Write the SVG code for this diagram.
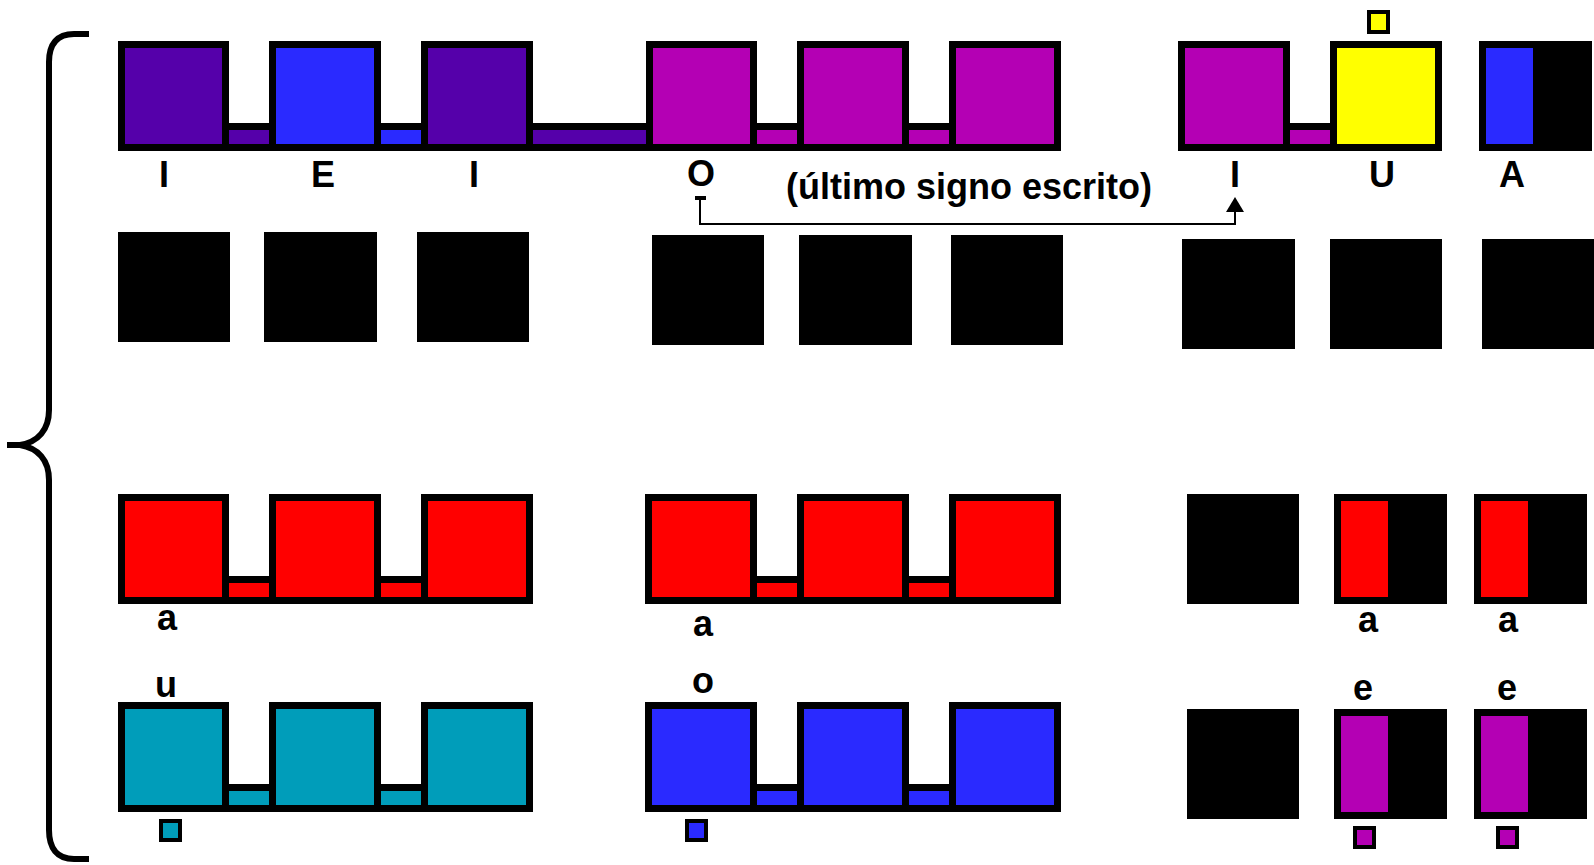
<svg xmlns="http://www.w3.org/2000/svg" width="1594" height="865" viewBox="0 0 1594 865">
<style>
.k{fill:#000}
.dp{fill:#5500AA}
.bl{fill:#2A2AFF}
.mg{fill:#B400B4}
.ye{fill:#FFFF00}
.rd{fill:#FF0000}
.tl{fill:#009DBA}
.t{font-family:"Liberation Sans",Arial,sans-serif;font-size:36px;font-weight:bold;fill:#000;text-anchor:middle}
.note{font-family:"Liberation Sans",Arial,sans-serif;font-size:36px;font-weight:bold;fill:#000}
.brace{fill:none;stroke:#000;stroke-width:6}
.ln{fill:none;stroke:#000;stroke-width:2}
</style>
<rect width="1594" height="865" fill="#fff"/>

<path class="brace" d="M89,34 H74 C57,34 49,44 49,62 V410 C49,430 38,442 20,445 H7 M20,445 C38,448 49,460 49,480 V830 C49,848 57,859 74,859 H89"/>

<!-- Top row, group 1 -->
<g id="top-g1">
<rect class="k" x="118" y="41" width="111" height="110"/><rect class="dp" x="125" y="48" width="97" height="96"/>
<rect class="k" x="229" y="123" width="40" height="28"/><rect class="dp" x="229" y="130" width="40" height="14"/>
<rect class="k" x="269" y="41" width="112" height="110"/><rect class="bl" x="276" y="48" width="98" height="96"/>
<rect class="k" x="381" y="123" width="40" height="28"/><rect class="bl" x="381" y="130" width="40" height="14"/>
<rect class="k" x="421" y="41" width="112" height="110"/><rect class="dp" x="428" y="48" width="98" height="96"/>
<rect class="k" x="533" y="123" width="113" height="28"/><rect class="dp" x="533" y="130" width="113" height="14"/>
<text class="t" x="164" y="187">I</text>
<text class="t" x="323" y="187">E</text>
<text class="t" x="474" y="187">I</text>
</g>

<!-- Top row, group 2 -->
<g id="top-g2">
<rect class="k" x="646" y="41" width="111" height="110"/><rect class="mg" x="653" y="48" width="97" height="96"/>
<rect class="k" x="757" y="123" width="40" height="28"/><rect class="mg" x="757" y="130" width="40" height="14"/>
<rect class="k" x="797" y="41" width="112" height="110"/><rect class="mg" x="804" y="48" width="98" height="96"/>
<rect class="k" x="909" y="123" width="40" height="28"/><rect class="mg" x="909" y="130" width="40" height="14"/>
<rect class="k" x="949" y="41" width="112" height="110"/><rect class="mg" x="956" y="48" width="98" height="96"/>
<text class="t" x="701" y="186">O</text>
</g>

<!-- Top row, group 3 -->
<g id="top-g3">
<rect class="k" x="1178" y="41" width="112" height="110"/><rect class="mg" x="1185" y="48" width="98" height="96"/>
<rect class="k" x="1290" y="123" width="40" height="28"/><rect class="mg" x="1290" y="130" width="40" height="14"/>
<rect class="k" x="1330" y="41" width="112" height="110"/><rect class="ye" x="1337" y="48" width="98" height="96"/>
<rect class="k" x="1367" y="10" width="23" height="24"/><rect class="ye" x="1371" y="14" width="15" height="16"/>
<text class="t" x="1235" y="187">I</text>
<text class="t" x="1382" y="187">U</text>
</g>
<g id="top-a">
<rect class="k" x="1479" y="41" width="113" height="110"/><rect class="bl" x="1486" y="48" width="47" height="96"/>
<text class="t" x="1512" y="187">A</text>
</g>

<text id="note" class="note" x="786" y="199">(último signo escrito)</text>

<!-- Row 2: black squares -->
<g id="row2-g1">
<rect class="k" x="118" y="232" width="112" height="110"/>
<rect class="k" x="264" y="232" width="113" height="110"/>
<rect class="k" x="417" y="232" width="112" height="110"/>
</g>
<g id="row2-g2">
<rect class="k" x="652" y="235" width="112" height="110"/>
<rect class="k" x="799" y="235" width="113" height="110"/>
<rect class="k" x="951" y="235" width="112" height="110"/>
</g>
<g id="row2-g3">
<rect class="k" x="1182" y="239" width="113" height="110"/>
<rect class="k" x="1330" y="239" width="112" height="110"/>
<rect class="k" x="1482" y="239" width="112" height="110"/>
</g>

<!-- Row 3 -->
<g id="row3-g1">
<rect class="k" x="118" y="494" width="111" height="110"/><rect class="rd" x="125" y="501" width="97" height="96"/>
<rect class="k" x="229" y="576" width="40" height="28"/><rect class="rd" x="229" y="583" width="40" height="14"/>
<rect class="k" x="269" y="494" width="112" height="110"/><rect class="rd" x="276" y="501" width="98" height="96"/>
<rect class="k" x="381" y="576" width="40" height="28"/><rect class="rd" x="381" y="583" width="40" height="14"/>
<rect class="k" x="421" y="494" width="112" height="110"/><rect class="rd" x="428" y="501" width="98" height="96"/>
<text class="t" x="167" y="630">a</text>
</g>
<g id="row3-g2">
<rect class="k" x="645" y="494" width="112" height="110"/><rect class="rd" x="652" y="501" width="98" height="96"/>
<rect class="k" x="757" y="576" width="40" height="28"/><rect class="rd" x="757" y="583" width="40" height="14"/>
<rect class="k" x="797" y="494" width="112" height="110"/><rect class="rd" x="804" y="501" width="98" height="96"/>
<rect class="k" x="909" y="576" width="40" height="28"/><rect class="rd" x="909" y="583" width="40" height="14"/>
<rect class="k" x="949" y="494" width="112" height="110"/><rect class="rd" x="956" y="501" width="98" height="96"/>
<text class="t" x="703" y="636">a</text>
</g>
<g id="row3-g3">
<rect class="k" x="1187" y="494" width="112" height="110"/>
<rect class="k" x="1334" y="494" width="113" height="110"/><rect class="rd" x="1341" y="501" width="47" height="96"/>
<rect class="k" x="1474" y="494" width="113" height="110"/><rect class="rd" x="1481" y="501" width="47" height="96"/>
<text class="t" x="1368" y="632">a</text>
<text class="t" x="1508" y="632">a</text>
</g>

<!-- Row 4 -->
<g id="row4-g1">
<rect class="k" x="118" y="702" width="111" height="110"/><rect class="tl" x="125" y="709" width="97" height="96"/>
<rect class="k" x="229" y="784" width="40" height="28"/><rect class="tl" x="229" y="791" width="40" height="14"/>
<rect class="k" x="269" y="702" width="112" height="110"/><rect class="tl" x="276" y="709" width="98" height="96"/>
<rect class="k" x="381" y="784" width="40" height="28"/><rect class="tl" x="381" y="791" width="40" height="14"/>
<rect class="k" x="421" y="702" width="112" height="110"/><rect class="tl" x="428" y="709" width="98" height="96"/>
<rect class="k" x="159" y="819" width="23" height="23"/><rect class="tl" x="163" y="823" width="15" height="15"/>
<text class="t" x="166" y="697">u</text>
</g>
<g id="row4-g2">
<rect class="k" x="645" y="702" width="112" height="110"/><rect class="bl" x="652" y="709" width="98" height="96"/>
<rect class="k" x="757" y="784" width="40" height="28"/><rect class="bl" x="757" y="791" width="40" height="14"/>
<rect class="k" x="797" y="702" width="112" height="110"/><rect class="bl" x="804" y="709" width="98" height="96"/>
<rect class="k" x="909" y="784" width="40" height="28"/><rect class="bl" x="909" y="791" width="40" height="14"/>
<rect class="k" x="949" y="702" width="112" height="110"/><rect class="bl" x="956" y="709" width="98" height="96"/>
<rect class="k" x="685" y="819" width="23" height="23"/><rect class="bl" x="689" y="823" width="15" height="15"/>
<text class="t" x="703" y="693">o</text>
</g>
<g id="row4-g3">
<rect class="k" x="1187" y="709" width="112" height="110"/>
<rect class="k" x="1334" y="709" width="113" height="110"/><rect class="mg" x="1341" y="716" width="47" height="96"/>
<rect class="k" x="1474" y="709" width="113" height="110"/><rect class="mg" x="1481" y="716" width="47" height="96"/>
<rect class="k" x="1353" y="826" width="23" height="23"/><rect class="mg" x="1357" y="830" width="15" height="15"/>
<rect class="k" x="1496" y="826" width="23" height="23"/><rect class="mg" x="1500" y="830" width="15" height="15"/>
<text class="t" x="1363" y="700">e</text>
<text class="t" x="1507" y="700">e</text>
</g>

<!-- Connector -->
<g id="connectors">
<rect class="k" x="695" y="196" width="11" height="4"/>
<path class="ln" d="M700,198 V224 H1235 V210"/>
<polygon class="k" points="1235,197 1244,212 1226,212"/>
</g>
</svg>
